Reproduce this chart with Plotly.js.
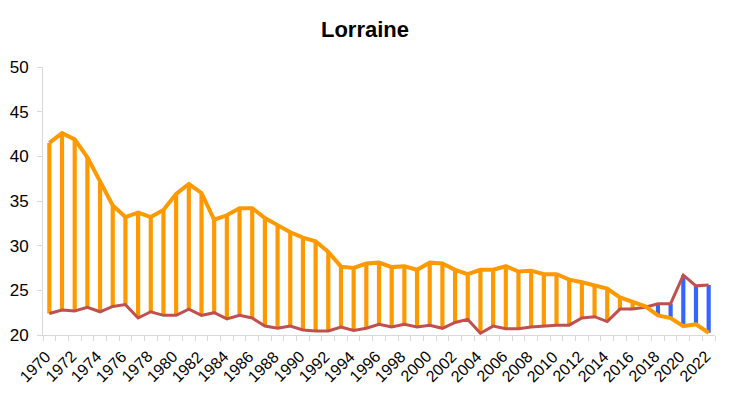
<!DOCTYPE html>
<html><head><meta charset="utf-8">
<script src="https://cdn.plot.ly/plotly-3.0.1.min.js"></script>
<style>html,body{margin:0;padding:0;background:#fff}#chart{width:730px;height:399px}</style>
</head><body><div id="chart"></div>
<script>
const years = [];
for (let y = 1970; y <= 2022; y++) years.push(y);
const tickYears = years.filter(y => (y - 1970) % 2 === 0);
const upper = [41.5,42.6,41.9,39.9,37.2,34.5,33.2,33.7,33.2,34.0,35.8,36.9,35.9,32.9,33.4,34.2,34.2,33.1,32.3,31.5,30.9,30.5,29.3,27.65,27.5,28.0,28.1,27.6,27.7,27.3,28.1,28.0,27.3,26.8,27.3,27.3,27.7,27.1,27.2,26.8,26.8,26.2,25.9,25.6,25.2,24.2,23.65,23.2,22.2,21.9,21.0,21.2,20.25];
const lower = [22.4,22.8,22.7,23.1,22.6,23.2,23.4,21.9,22.6,22.2,22.2,22.9,22.2,22.5,21.8,22.2,21.9,21.0,20.75,21.0,20.56,20.45,20.45,20.9,20.5,20.75,21.2,20.9,21.2,20.9,21.1,20.75,21.4,21.75,20.2,21.0,20.7,20.7,20.9,21.0,21.1,21.1,21.9,22.05,21.5,22.9,22.9,23.1,23.5,23.5,26.7,25.5,25.6];
const orangeColor = '#FF9900', redColor = '#C0504D', blueColor = '#3366FF';

const base = upper.map((u,i)=>Math.min(u, lower[i]));
const len = upper.map((u,i)=>Math.abs(u - lower[i]));
const barColors = upper.map((u,i)=> u >= lower[i] ? orangeColor : blueColor);

const data = [
  {type:'scatter', mode:'lines', x:years, y:lower, line:{color:redColor, width:3}, hoverinfo:'skip'},
  {type:'bar', x:years, y:len, base:base, width:0.33, marker:{color:barColors, line:{width:0}}, hoverinfo:'skip'},
  {type:'scatter', mode:'lines', x:years, y:upper, line:{color:orangeColor, width:4}, hoverinfo:'skip'}
];
const annotations = tickYears.map(y => ({
  text: String(y), x: y, xref: 'x', y: 0, yref: 'paper',
  xanchor: 'right', yanchor: 'top', textangle: -45, showarrow: false,
  xshift: 6, yshift: -11, borderpad: 0,
  font: {size: 16, color: '#000', family: 'Liberation Sans, Arial, sans-serif'}
}));
const layout = {
  width:730, height:399,
  margin:{l:43, r:15, t:67, b:64},
  showlegend:false,
  paper_bgcolor:'#fff', plot_bgcolor:'#fff',
  font:{family:'Liberation Sans, Arial, sans-serif', color:'#000'},
  title:{text:'<b>Lorraine</b>', x:0.5, xanchor:'center', y:0.926, yanchor:'middle', font:{size:22, color:'#000'}},
  annotations: annotations,
  xaxis:{range:[1969.5,2022.5], showticklabels:false,
    ticks:'', showgrid:false, zeroline:false, showline:true, linecolor:'#d9d9d9', linewidth:1, automargin:false,
    minor:{tickmode:'linear', tick0:1969.5, dtick:1, ticks:'outside', ticklen:5, tickcolor:'#d9d9d9', showgrid:false}},
  yaxis:{range:[20,50], dtick:5, ticks:'outside', ticklen:5, tickcolor:'#d9d9d9', showgrid:false, zeroline:false,
    showline:true, linecolor:'#d9d9d9', linewidth:1, tickfont:{size:17}, ticklabelstandoff:5, automargin:false}
};
Plotly.newPlot('chart', data, layout, {displayModeBar:false, staticPlot:true});
</script></body></html>
